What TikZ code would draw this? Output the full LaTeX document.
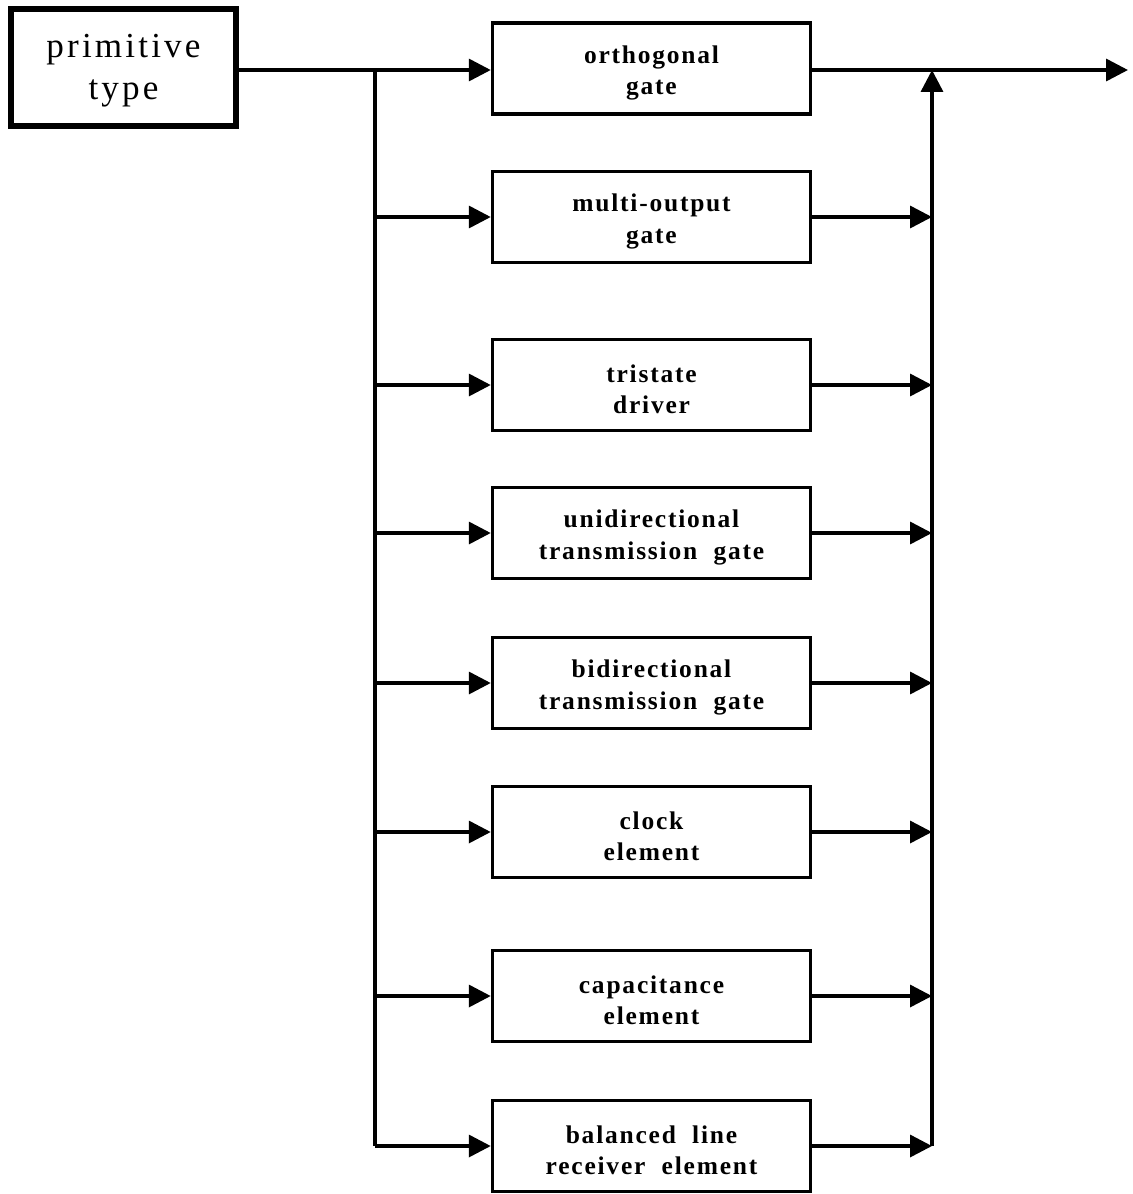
\documentclass[tikz,border=0pt]{standalone}
\usepackage{fontspec}
\setmainfont{Liberation Serif}
\newfontfamily\primfont[LetterSpace=9]{Liberation Serif}
\newfontfamily\gatefont[LetterSpace=7]{Liberation Serif}
\usetikzlibrary{arrows.meta,positioning,calc}
\newcommand\liftp{\rule{0pt}{5.9mm}}
\newcommand\liftg{\rule{0pt}{5.3mm}}
\tikzset{
  flowln/.style={line width=2pt},
  flowarr/.style={-{Triangle[length=4.4mm,width=4.4mm]}, line width=2pt},
  primbox/.style={draw, line width=3.6pt, minimum width=4.5cm, minimum height=2.34cm,
    align=center, font=\fontsize{20}{24}\selectfont\primfont},
  gatebox/.style={draw, line width=2pt, minimum width=6.36cm, minimum height=1.82cm,
    align=center, font=\fontsize{14.5}{18}\selectfont\gatefont\bfseries},
}

\begin{document}
\begin{tikzpicture}[x=0.02cm, y=-0.02cm]
  \useasboundingbox (0,0) rectangle (1133,1194);
  % source box
  \node[primbox] (prim) at (123.5,67.5) {\liftp primitive\\type};
  % the eight primitive kinds
  \node[gatebox] (orth)  at (651.5,68.5)  {\liftg orthogonal\\gate};
  \node[gatebox] (multi) at (651.5,217)   {\liftg multi-output\\gate};
  \node[gatebox] (tri)   at (651.5,385)   {\liftg tristate\\driver};
  \node[gatebox] (uni)   at (651.5,533)   {\liftg unidirectional\\transmission\ \ gate};
  \node[gatebox] (bi)    at (651.5,683)   {\liftg bidirectional\\transmission\ \ gate};
  \node[gatebox] (clk)   at (651.5,832)   {\liftg clock\\element};
  \node[gatebox] (capa)  at (651.5,996)   {\liftg capacitance\\element};
  \node[gatebox] (bal)   at (651.5,1146)  {\liftg balanced\ \ line\\receiver\ \ element};
  % bus lines
  \coordinate (lbus) at (375,0);
  \coordinate (rbus) at (932,0);
  \coordinate (out) at (1128,70);
  \draw[flowarr] (prim.east |- out) -- (orth.west |- out);
  \draw[flowln] (lbus |- out) -- (lbus |- bal.west);
  \foreach \g in {multi,tri,uni,bi,clk,capa,bal}{
    \draw[flowarr] (lbus |- \g.west) -- (\g.west);
    \draw[flowarr] (\g.east) -- (rbus |- \g.east);
  }
  \draw[flowarr] (rbus |- bal.east) -- (rbus |- out);
  \draw[flowarr] (orth.east |- out) -- (out);
\end{tikzpicture}
\end{document}
